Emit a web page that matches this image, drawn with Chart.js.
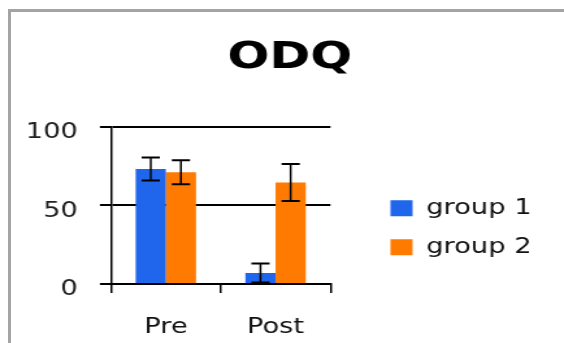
<!DOCTYPE html>
<html>
<head>
<meta charset="utf-8">
<script src="https://cdn.jsdelivr.net/npm/chart.js@4"></script>
<style>
  html, body { margin: 0; padding: 0; background: #fff; overflow: hidden; }
  body { width: 564px; height: 343px; position: relative; }
  /* the source picture is stretched sideways, so the chart is too */
  .wrap { position: absolute; left: 0; top: 0; transform: scale(1.2995, 1); transform-origin: 0 0; }
  .frame { position: absolute; left: 8px; top: 9px; width: 600px; height: 400px;
           border-top: 3px solid #a4a4a4; border-left: 3px solid #a4a4a4; }
</style>
</head>
<body>
<div class="frame"></div>
<div class="wrap"><canvas id="myChart" width="434" height="343"></canvas></div>
<script>
const categories = ["Pre", "Post"];
const seriesNames = ["group 1", "group 2"];
const group1 = [73, 7];
const group2 = [71, 64.5];
const group1Err = [7.3, 6];
const group2Err = [7.6, 11.7];
const yTicks = [0, 50, 100];

const font = "DejaVu Sans";

// draws the +/- error whiskers on top of each bar
const errorBars = {
  id: "errorBars",
  afterDatasetsDraw(chart) {
    const ctx = chart.ctx;
    const y = chart.scales.y;
    ctx.save();
    ctx.strokeStyle = "#000";
    chart.data.datasets.forEach((ds, i) => {
      chart.getDatasetMeta(i).data.forEach((bar, j) => {
        const v = ds.data[j];
        const e = ds.errors[j];
        const top = y.getPixelForValue(v + e);
        const bot = y.getPixelForValue(v - e);
        ctx.lineWidth = 1.5;
        ctx.beginPath();
        ctx.moveTo(bar.x, top);
        ctx.lineTo(bar.x, bot);
        ctx.stroke();
        ctx.lineWidth = 2;
        ctx.beginPath();
        ctx.moveTo(bar.x - 7, top);
        ctx.lineTo(bar.x + 7, top);
        ctx.moveTo(bar.x - 7, bot);
        ctx.lineTo(bar.x + 7, bot);
        ctx.stroke();
      });
    });
    ctx.restore();
  }
};

// invisible axis, only used to hold space in the layout
const spacer = (w, weight) => ({
  position: "right",
  display: true,
  weight: weight,
  grid: { display: false, drawTicks: false },
  border: { display: false },
  ticks: { display: false },
  afterFit: (scale) => { scale.width = w; }
});

const ctx = document.getElementById("myChart");

const myChart = new Chart(ctx, {
  type: "bar",
  data: {
    labels: categories,
    datasets: [
      {
        label: seriesNames[0],
        data: group1,
        errors: group1Err,
        backgroundColor: "#1f66ec",
        categoryPercentage: 0.55,
        barPercentage: 1.0
      },
      {
        label: seriesNames[1],
        data: group2,
        errors: group2Err,
        backgroundColor: "#ff7a00",
        categoryPercentage: 0.55,
        barPercentage: 1.0
      }
    ]
  },
  options: {
    responsive: false,
    animation: false,
    layout: { padding: { left: 19, right: 7, top: 0, bottom: 0 } },
    plugins: {
      title: {
        display: true,
        text: "ODQ",
        color: "#000",
        font: { family: font, size: 38, weight: "bold" },
        padding: { top: 35, bottom: 46 }
      },
      legend: {
        position: "right",
        fullSize: false,
        align: "center",
        maxWidth: 170,
        title: { display: true, text: "", padding: { top: 0, bottom: 21 }, font: { size: 20 } },
        labels: {
          color: "#111",
          font: { family: font, size: 21 },
          boxWidth: 17,
          boxHeight: 16,
          padding: 18
        }
      },
      tooltip: { enabled: false }
    },
    scales: {
      x: {
        afterFit: (scale) => { scale.height = 59; },
        grid: {
          display: true,
          drawOnChartArea: false,
          drawTicks: true,
          tickLength: 9,
          color: "#000",
          lineWidth: 1.5
        },
        border: { display: true, color: "#000", width: 2 },
        ticks: {
          color: "#111",
          font: { family: font, size: 21 },
          padding: 22
        }
      },
      y: {
        min: 0,
        max: 100,
        afterFit: (scale) => { scale.width = 66.4; },
        afterBuildTicks: (scale) => { scale.ticks = yTicks.map((v) => ({ value: v })); },
        grid: {
          color: "#000",
          lineWidth: 2,
          drawTicks: true,
          tickLength: 8.5
        },
        border: { display: true, color: "#000", width: 1.5 },
        ticks: {
          color: "#222",
          font: { family: font, size: 21 },
          padding: 17,
          labelOffset: 6
        }
      },
      // keeps the legend away from the plot
      gap: spacer(28.2, 0),
      // room on the far right of the legend
      edge: spacer(8, 2000)
    }
  },
  plugins: [errorBars]
});
</script>
</body>
</html>
